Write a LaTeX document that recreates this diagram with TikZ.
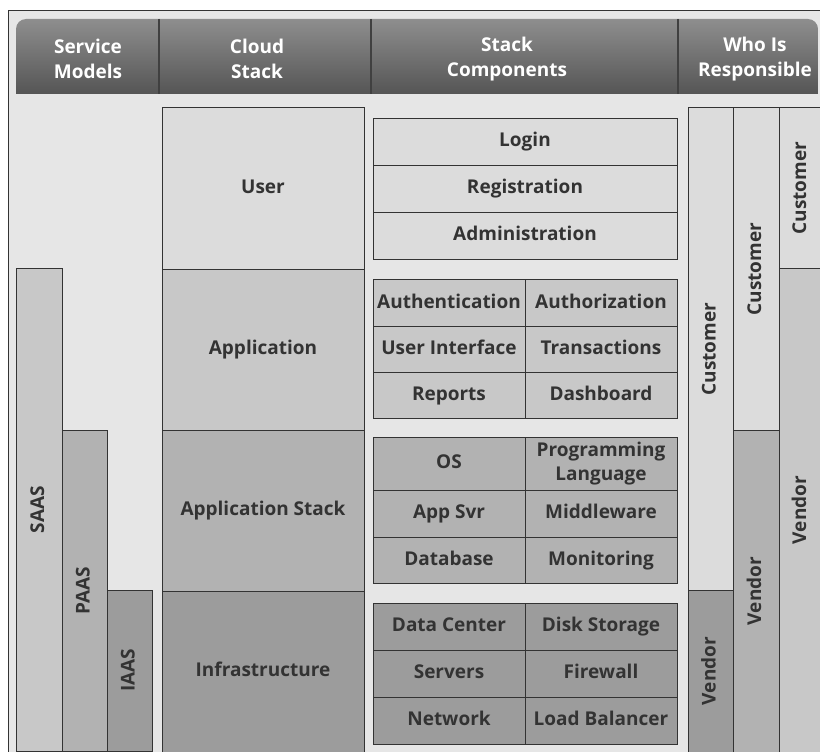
\documentclass[tikz,border=0pt]{standalone}
\usepackage{fontspec}
\setmainfont{Open Sans}
\usetikzlibrary{positioning}
\definecolor{pagebg}{HTML}{E6E6E6}
\definecolor{tierA}{HTML}{DCDCDC}
\definecolor{tierB}{HTML}{C8C8C8}
\definecolor{tierC}{HTML}{B2B2B2}
\definecolor{tierD}{HTML}{9C9C9C}
\definecolor{ink}{HTML}{333333}
\definecolor{headtop}{HTML}{8E8E8E}
\definecolor{headbot}{HTML}{555555}
\tikzset{
  blk/.style={draw=ink, line width=1pt, inner sep=0pt, outer sep=0pt,
    text=ink, font=\bfseries\fontsize{19}{24}\selectfont, align=center,
    text height=14pt, text depth=4pt},
  vblk/.style={blk, rotate=90},
  headtxt/.style={text=white, inner sep=0pt, align=center,
    font=\bfseries\fontsize{19}{25}\selectfont},
}

\begin{document}
\begin{tikzpicture}[x=1pt,y=-1pt]
\useasboundingbox (0,0) rectangle (820,752);
% frame and header
\draw[ink, line width=1pt, fill=pagebg] (8,11) rectangle (826,758);
\begin{scope}
\clip[rounded corners=10pt] (16,19) rectangle (818,140);
\shade[top color=headtop, bottom color=headbot] (16,19) rectangle (818,94);
\end{scope}
\foreach \x in {159,371,678}
  \draw[black!75, line width=1.5pt] (\x,19) -- (\x,94);
\node[headtxt] (hsm) at (88,59) {Service\\Models};
\node[headtxt] (hcs) at (257,59) {Cloud\\Stack};
\node[headtxt] (hsc) at (507,59) {Stack\\Components};
\node[headtxt] (hwr) at (755,59) {Who Is\\Responsible};

% service models
\node[vblk, fill=tierB, minimum width=483pt, minimum height=46pt] (saas) at (39,509.5) {SAAS};
\node[vblk, fill=tierC, minimum width=321pt, minimum height=45pt] (paas) at (84.5,590.5) {PAAS};
\node[vblk, fill=tierD, minimum width=161pt, minimum height=45pt] (iaas) at (129.5,670.5) {IAAS};

% cloud stack
\foreach \nm/\lbl/\col [count=\i from 0] in
  {usr/User/tierA, app/Application/tierB, apst/Application Stack/tierC, infra/Infrastructure/tierD}
  \node[blk, fill=\col, minimum width=202pt, minimum height=161pt] (\nm) at (263,188.5+161*\i) {\lbl};

% stack components
\foreach \lbl [count=\r] in {Login, Registration, Administration}
  \node[blk, fill=tierA, minimum width=304pt, minimum height=47pt] (u\r) at (525,94.5+47*\r) {\lbl};
\foreach \a/\b [count=\r] in {Authentication/Authorization, User Interface/Transactions, Reports/Dashboard} {
  \node[blk, fill=tierB, minimum width=152pt, minimum height=46.33pt] (a\r) at (449,256.67+46.33*\r) {\a};
  \node[blk, fill=tierB, minimum width=152pt, minimum height=46.33pt] (b\r) at (601,256.67+46.33*\r) {\b};
}
\node[blk, fill=tierC, minimum width=152pt, minimum height=53pt] (s1) at (449,463.5) {OS};
\node[blk, fill=tierC, minimum width=152pt, minimum height=53pt, text height=, text depth=] (t1) at (601,463.5) {Programming\\Language};
\foreach \a/\b/\y/\h [count=\r from 2] in {App Svr/Middleware/513.5/47, Database/Monitoring/560/46} {
  \node[blk, fill=tierC, minimum width=152pt, minimum height=\h pt] (s\r) at (449,\y) {\a};
  \node[blk, fill=tierC, minimum width=152pt, minimum height=\h pt] (t\r) at (601,\y) {\b};
}
\foreach \a/\b [count=\r] in {Data Center/Disk Storage, Servers/Firewall, Network/Load Balancer} {
  \node[blk, fill=tierD, minimum width=152pt, minimum height=47pt] (i\r) at (449,579.5+47*\r) {\a};
  \node[blk, fill=tierD, minimum width=152pt, minimum height=47pt] (j\r) at (601,579.5+47*\r) {\b};
}

% who is responsible
\node[vblk, fill=tierA, minimum width=482pt, minimum height=45pt] (cust1) at (710.5,349) {Customer};
\node[vblk, fill=tierD, minimum width=162pt, minimum height=45pt] (vend1) at (710.5,671) {Vendor};
\node[vblk, fill=tierA, minimum width=322pt, minimum height=46pt] (cust2) at (756,269) {Customer};
\node[vblk, fill=tierC, minimum width=322pt, minimum height=46pt] (vend2) at (756,591) {Vendor};
\node[vblk, fill=tierA, minimum width=160pt, minimum height=44pt] (cust3) at (801,188) {Customer};
\node[vblk, fill=tierB, minimum width=484pt, minimum height=44pt] (vend3) at (801,510) {Vendor};
\end{tikzpicture}
\end{document}
